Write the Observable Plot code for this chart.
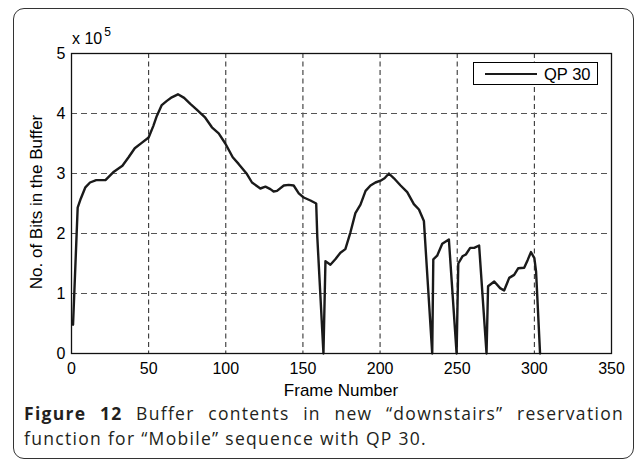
<!DOCTYPE html>
<html>
<head>
<meta charset="utf-8">
<script src="https://cdn.jsdelivr.net/npm/d3@7"></script>
<script src="https://cdn.jsdelivr.net/npm/@observablehq/plot@0.6"></script>
<style>
  html, body { margin: 0; padding: 0; background: #fff; }
  #wrap { position: relative; width: 637px; height: 464px; overflow: hidden; font-family: "Liberation Sans", Arial, sans-serif; color: #000; }
  #border { position: absolute; left: 13px; top: 8px; width: 621px; height: 451px; border: 1.5px solid #333; border-radius: 11px; box-sizing: border-box; }
  #chart { position: absolute; left: 0; top: 0; }
  .lbl { position: absolute; white-space: nowrap; font-size: 17px; line-height: 20px; }
  #exp { left: 72px; top: 29px; font-size: 16px; }
  #exp sup { font-size: 12px; position: relative; top: -7px; vertical-align: top; margin-left: 2px; }
  #xtitle { left: 341px; top: 381px; transform: translateX(-50%); }
  #ytitle { left: 37px; top: 202px; transform: translate(-50%, -50%) rotate(-90deg); }
  #legend { position: absolute; left: 473px; top: 62px; width: 125px; height: 23px; border: 1px solid #000; background: #fff; box-sizing: border-box; }
  #legend .sw { position: absolute; left: 11px; top: 10px; width: 52px; height: 0; border-top: 2.4px solid #1a1a1a; }
  #legend .tx { position: absolute; left: 70px; top: 1px; font-size: 16.5px; line-height: 20px; }
  .cap { position: absolute; left: 24px; width: 600px; font-family: "Open Sans", "Noto Sans", sans-serif; font-size: 17.5px; letter-spacing: 1.3px; line-height: 25px; color: #231f20; white-space: nowrap; }
  #cap1 { top: 401px; text-align: justify; text-align-last: justify; white-space: normal; }
  #cap2 { top: 426px; }
</style>
</head>
<body>
<div id="wrap">
  <div id="border"></div>
  <div id="chart"></div>
  <div class="lbl" id="exp">x 10<sup>5</sup></div>
  <div class="lbl" id="xtitle"></div>
  <div class="lbl" id="ytitle"></div>
  <div id="legend"><div class="sw"></div><div class="tx"></div></div>
  <div class="cap" id="cap1"></div>
  <div class="cap" id="cap2"></div>
</div>
<script>
// ---- data (bits in units of 10^5) ----
const seriesName = "QP 30";
const frames = [1, 4, 6, 9, 12, 16, 22, 27, 33, 37, 41, 45.5, 50, 53, 55.3, 58.5, 61.8, 65, 69, 73, 77, 81, 86.7, 91, 95.4, 99.7, 104.5, 108.3, 113.7, 117, 122.4, 125.7, 128.9, 131, 133.2, 137.6, 140.8, 144, 147.3, 150.5, 154.9, 158.6, 159.3, 163.3,
  164.6, 167.8, 171, 174.3, 177.5, 180.8, 184, 187.3, 190.6, 193.8, 197, 200.3, 202.9, 205.7, 209, 213.3, 217.6, 221.9, 225.2, 228.4, 233.8,
  234.5, 237, 240.3, 244.6, 249.6,
  250.7, 253.4, 255.6, 258.4, 261, 264.2, 269,
  270, 274, 277.8, 280.4, 283.7, 286.9, 289.5, 293.4, 295.7, 297.8, 300, 301.1, 303.7];
const bits = [0.48, 2.43, 2.58, 2.77, 2.85, 2.89, 2.89, 3.02, 3.13, 3.27, 3.42, 3.51, 3.60, 3.79, 3.96, 4.14, 4.21, 4.27, 4.32, 4.26, 4.16, 4.07, 3.93, 3.77, 3.67, 3.50, 3.27, 3.16, 2.99, 2.85, 2.75, 2.78, 2.74, 2.70, 2.71, 2.80, 2.81, 2.80, 2.67, 2.60, 2.55, 2.50, 1.95, 0,
  1.54, 1.48, 1.57, 1.68, 1.74, 2.02, 2.34, 2.48, 2.71, 2.80, 2.85, 2.88, 2.92, 3.00, 2.92, 2.80, 2.69, 2.49, 2.40, 2.21, 0,
  1.57, 1.63, 1.83, 1.90, 0,
  1.50, 1.62, 1.65, 1.76, 1.76, 1.80, 0,
  1.12, 1.20, 1.09, 1.05, 1.26, 1.31, 1.42, 1.43, 1.56, 1.69, 1.59, 1.37, 0];
const xTicks = [0, 50, 100, 150, 200, 250, 300, 350];
const yTicks = [0, 1, 2, 3, 4, 5];
const xTitle = "Frame Number";
const yTitle = "No. of Bits in the Buffer";
const capBold = "Figure 12";
const capLine1 = " Buffer contents in new \u201cdownstairs\u201d reservation";
const capLine2 = "function for \u201cMobile\u201d sequence with QP 30.";

const data = frames.map((f, i) => ({frame: f, bits: bits[i]}));

const chart = Plot.plot({
  width: 637,
  height: 400,
  marginLeft: 71,
  marginRight: 26,
  marginTop: 53,
  marginBottom: 47,
  style: {fontFamily: "'Liberation Sans', Arial, sans-serif", fontSize: "16px", background: "transparent", color: "#000", overflow: "visible"},
  x: {domain: [0, 350], ticks: xTicks, tickSize: 0, tickPadding: 9, label: null, tickFormat: d => String(d)},
  y: {domain: [0, 5], ticks: yTicks, tickSize: 0, tickPadding: 6, label: null, tickFormat: d => String(d)},
  marks: [
    Plot.ruleX(xTicks.slice(1, -1), {stroke: "#222", strokeWidth: 1, strokeDasharray: "5,3.5"}),
    Plot.ruleY(yTicks.slice(1, -1), {stroke: "#555", strokeWidth: 1, strokeDasharray: "6,4"}),
    Plot.line(data, {x: "frame", y: "bits", stroke: "#1a1a1a", strokeWidth: 2.4, strokeLinejoin: "round", curve: "linear"}),
    Plot.frame({stroke: "#111", strokeWidth: 1.3})
  ]
});
document.getElementById("chart").appendChild(chart);
document.getElementById("xtitle").textContent = xTitle;
document.getElementById("ytitle").textContent = yTitle;
document.querySelector("#legend .tx").textContent = seriesName;
const c1 = document.getElementById("cap1");
const b = document.createElement("b"); b.textContent = capBold;
c1.appendChild(b); c1.appendChild(document.createTextNode(capLine1));
document.getElementById("cap2").textContent = capLine2;
</script>
</body>
</html>
